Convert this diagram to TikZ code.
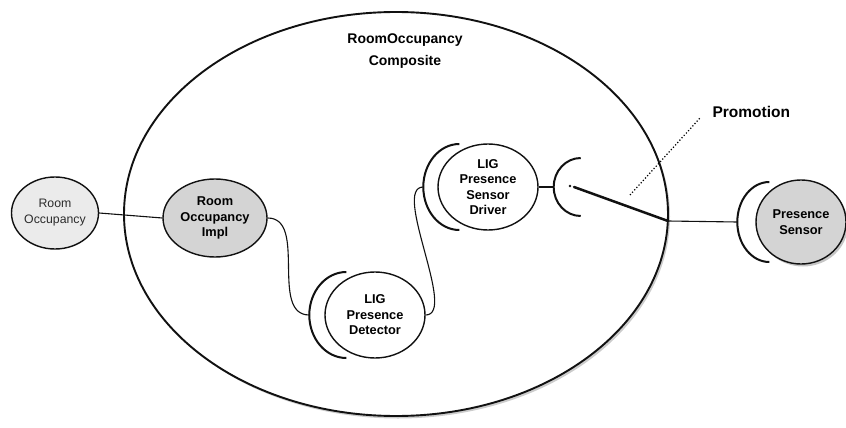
\documentclass[tikz,border=0pt]{standalone}
\usepackage{fontspec}
\setmainfont{Liberation Sans}
\usetikzlibrary{shapes.geometric,positioning,shadows}
\definecolor{cLine}{HTML}{111111}
\definecolor{cPale}{HTML}{EBEBEB}
\definecolor{cMid} {HTML}{D4D4D4}
\definecolor{cText}{HTML}{2C2C2C}
\tikzset{
  comp/.style  ={ellipse,draw=cLine,line width=1.9pt,fill=white,inner sep=0pt,
                 drop shadow={shadow xshift=2pt,shadow yshift=-2.5pt,opacity=.4}},
  cmp/.style   ={ellipse,draw=cLine,line width=1.4pt,fill=white,inner sep=0pt,
                 align=center,font=\fontsize{12.8}{15.5}\selectfont\bfseries,
                 minimum width=100pt,minimum height=86pt},
  iface/.style ={cmp,fill=cPale,font=\fontsize{12.3}{16}\selectfont,text=cText},
  bracket/.style={draw=cLine,line width=2pt},
  wire/.style  ={draw=cLine,line width=1.1pt},
  promo/.style ={draw=cLine,line width=2.5pt,line cap=round},
  note/.style  ={font=\fontsize{15.5}{18}\selectfont\bfseries},
}
% a "(" shaped reference/service cup, #1 = tip, #2/#3 = radii
\newcommand{\refcup}[3]{\draw[bracket] (#1) ++(#2,#3)
  arc[start angle=90,end angle=270,x radius=#2pt,y radius=#3pt];}
\begin{document}
\begin{tikzpicture}[x=1pt,y=1pt]
\useasboundingbox (0,0) rectangle (846,-428);

% the composite
\node[comp,minimum width=544pt,minimum height=404pt] (comp) at (396,-214) {};
\node[font=\fontsize{14}{22}\selectfont\bfseries,align=center] (compLbl) at (405,-51)
  {RoomOccupancy\\Composite};

% components
\node[iface,minimum width=86pt,minimum height=72pt] (roomOcc) at (55,-213)
  {Room\\Occupancy};
\node[cmp,fill=cMid,minimum width=104pt,minimum height=78pt] (impl) at (215,-218)
  {Room\\Occupancy\\Impl};
\node[cmp] (detector) at (375,-315) {LIG\\Presence\\Detector};
\node[cmp] (driver) at (488,-187) {LIG\\Presence\\Sensor\\Driver};
\node[cmp,fill=cMid,minimum width=90pt,minimum height=84pt,
      drop shadow={shadow xshift=2pt,shadow yshift=-2.5pt,opacity=.45}] (sensor)
  at (801,-222) {Presence\\Sensor};

% reference cups
\coordinate (detIn) at ([xshift=-15pt]detector.west);
\coordinate (drvIn) at ([xshift=-14pt]driver.west);
\coordinate (drvOut) at ([xshift=15pt]driver.east);
\coordinate (senIn) at ([xshift=-18pt]sensor.west);
\refcup{detIn}{37}{43}
\refcup{drvIn}{36}{43}
\refcup{drvOut}{27}{29}
\refcup{senIn}{32}{40}

% wiring
\draw[wire] (roomOcc.east) -- (impl.west);
\draw[wire] (impl.east) .. controls +(40,0) and +(-40,0) .. (detIn);
\draw[wire] (detector.east) .. controls +(32,0) and +(-32,0) .. (drvIn);
\draw[bracket] (driver.east) -- (drvOut);

% promotion of the driver reference
\coordinate (promEnd) at (668,-221);
\fill[cLine] (570,-186) circle (1.3pt);
\draw[promo] (574,-187) -- (promEnd);
\draw[wire] (promEnd) -- (senIn);
\node[note,anchor=west] (promLbl) at (709,-112) {Promotion};
\draw[line width=1.2pt,dotted] (630,-195) -- (700,-118);
\end{tikzpicture}
\end{document}
